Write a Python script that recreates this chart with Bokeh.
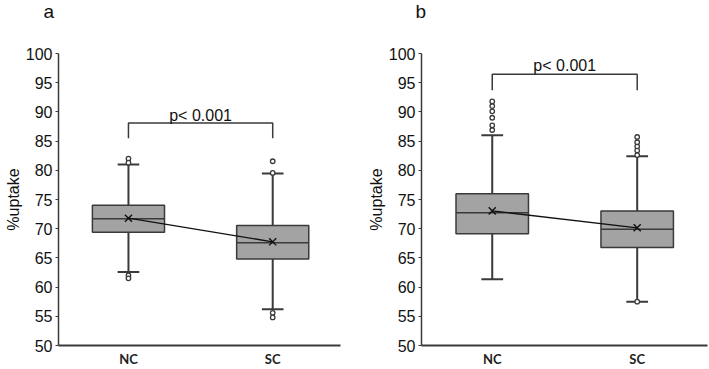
from bokeh.plotting import figure
from bokeh.layouts import row
from bokeh.models import FixedTicker, Label, Title
from bokeh.embed import file_html
from bokeh.resources import INLINE

# Box-plot summaries of %uptake for the two groups
groups = ["NC", "SC"]
positions = [1, 2]
y_ticks = [50, 55, 60, 65, 70, 75, 80, 85, 90, 95, 100]

# panel a
a_q1 = [69.4, 64.8]
a_q3 = [74.0, 70.55]
a_median = [71.7, 67.6]
a_mean = [71.8, 67.75]
a_whisker_lo = [62.6, 56.2]
a_whisker_hi = [81.0, 79.45]
a_outliers_nc = [82.0, 81.3, 62.0, 61.5]
a_outliers_sc = [81.55, 79.55, 55.6, 54.8]
a_bracket_top = 88.1
a_bracket_foot = 85.5

# panel b
b_q1 = [69.15, 66.8]
b_q3 = [76.0, 73.05]
b_median = [72.75, 69.9]
b_mean = [73.05, 70.15]
b_whisker_lo = [61.35, 57.5]
b_whisker_hi = [86.0, 82.4]
b_outliers_nc = [86.9, 87.7, 89.0, 90.1, 91.0, 91.8]
b_outliers_sc = [82.6, 83.4, 84.1, 84.8, 85.7, 57.5]
b_bracket_top = 96.45
b_bracket_foot = 93.7

p_text = "p< 0.001"

FONT = "Liberation Sans"
DARK = "#3a3a3a"
BOX_FILL = "#a3a3a3"
BOX_W = 0.5
CAP_W = 0.15


def make_panel(tag, tag_offset, width, x_range, q1, q3, med, mean, wlo, whi,
               out_nc, out_sc, br_top, br_foot, text_y, border_right):
    p = figure(width=width, height=369, x_range=x_range, y_range=(50, 100),
               output_backend="svg", toolbar_location=None,
               min_border_left=58, min_border_right=border_right,
               min_border_top=53, min_border_bottom=24)
    p.outline_line_color = None
    p.xgrid.visible = False
    p.ygrid.visible = False
    p.background_fill_color = "white"

    # blank band between the frame and the panel letter
    p.add_layout(Title(text=" ", text_font_size="16px", standoff=11), "above")

    # panel letter, outermost in the top border
    p.title.text = tag
    p.title.align = "left"
    p.title.vertical_align = "top"
    p.title.offset = tag_offset
    p.title.standoff = 0
    p.title.text_font = FONT
    p.title.text_font_style = "normal"
    p.title.text_font_size = "19px"
    p.title.text_color = "#111111"

    # axes
    p.yaxis.ticker = FixedTicker(ticks=y_ticks)
    p.yaxis.axis_label = "%uptake"
    p.yaxis.axis_label_text_font = FONT
    p.yaxis.axis_label_text_font_style = "normal"
    p.yaxis.axis_label_text_font_size = "16px"
    p.yaxis.axis_label_text_color = "#111111"
    p.yaxis.axis_label_standoff = 1
    p.yaxis.major_label_text_font = FONT
    p.yaxis.major_label_text_font_size = "16px"
    p.yaxis.major_label_text_color = "#111111"
    p.yaxis.major_label_standoff = 3
    p.yaxis.major_tick_out = 3
    p.yaxis.major_tick_in = 0
    p.yaxis.minor_tick_line_color = None
    p.yaxis.axis_line_color = DARK
    p.yaxis.axis_line_width = 1.5
    p.yaxis.major_tick_line_color = DARK

    p.xaxis.ticker = FixedTicker(ticks=positions)
    p.xaxis.major_label_overrides = {pos: g for pos, g in zip(positions, groups)}
    p.xaxis.major_label_text_font = "Lato"
    p.xaxis.major_label_text_font_style = "bold"
    p.xaxis.major_label_text_font_size = "13px"
    p.xaxis.major_label_text_color = "#222222"
    p.xaxis.major_label_standoff = 5
    p.xaxis.major_tick_out = 0
    p.xaxis.major_tick_in = 0
    p.xaxis.minor_tick_line_color = None
    p.xaxis.axis_line_color = DARK
    p.xaxis.axis_line_width = 2

    # whiskers and caps
    p.segment(x0=positions, y0=q3, x1=positions, y1=whi, line_color=DARK, line_width=2)
    p.segment(x0=positions, y0=q1, x1=positions, y1=wlo, line_color=DARK, line_width=2)
    cap_l = [x - CAP_W / 2 for x in positions]
    cap_r = [x + CAP_W / 2 for x in positions]
    p.segment(x0=cap_l, y0=whi, x1=cap_r, y1=whi, line_color=DARK, line_width=2)
    p.segment(x0=cap_l, y0=wlo, x1=cap_r, y1=wlo, line_color=DARK, line_width=2)

    # boxes and medians
    p.vbar(x=positions, bottom=q1, top=q3, width=BOX_W, fill_color=BOX_FILL,
           line_color=DARK, line_width=1.5)
    box_l = [x - BOX_W / 2 for x in positions]
    box_r = [x + BOX_W / 2 for x in positions]
    p.segment(x0=box_l, y0=med, x1=box_r, y1=med, line_color=DARK, line_width=1.5)

    # outliers
    p.scatter(x=[1] * len(out_nc), y=out_nc, marker="circle", size=4.5,
              fill_color="white", line_color=DARK, line_width=1.3)
    p.scatter(x=[2] * len(out_sc), y=out_sc, marker="circle", size=4.5,
              fill_color="white", line_color=DARK, line_width=1.3)

    # means joined by a line
    p.line(x=positions, y=mean, line_color="#111111", line_width=1.3)
    p.scatter(x=positions, y=mean, marker="x", size=10, line_color="#111111",
              line_width=1.4)

    # significance bracket
    p.line(x=[1, 1, 2, 2], y=[br_foot, br_top, br_top, br_foot],
           line_color=DARK, line_width=1.5)
    p.add_layout(Label(x=1.5, y=text_y, text=p_text, text_align="center",
                       text_baseline="alphabetic", text_font=FONT,
                       text_font_size="16px", text_color="#111111"))
    return p


pa = make_panel("a", -15, 363, (0.515, 2.47), a_q1, a_q3, a_median, a_mean,
                a_whisker_lo, a_whisker_hi, a_outliers_nc, a_outliers_sc,
                a_bracket_top, a_bracket_foot, 89.4, 23)
pb = make_panel("b", -6, 346, (0.512, 2.485), b_q1, b_q3, b_median, b_mean,
                b_whisker_lo, b_whisker_hi, b_outliers_nc, b_outliers_sc,
                b_bracket_top, b_bracket_foot, 97.9, 2)

layout = row(pa, pb, spacing=0)
open("out.html", "w").write(file_html(layout, INLINE))
